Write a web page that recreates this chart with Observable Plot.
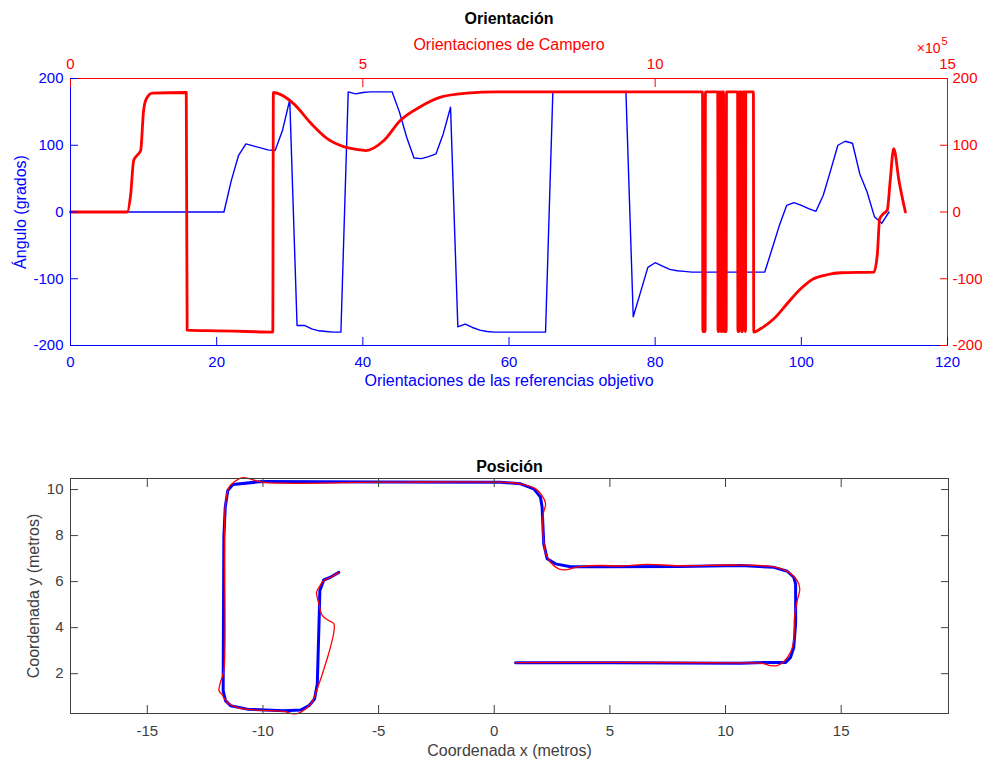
<!DOCTYPE html>
<html>
<head>
<meta charset="utf-8">
<script src="https://cdn.jsdelivr.net/npm/d3@7"></script>
<script src="https://cdn.jsdelivr.net/npm/@observablehq/plot@0.6"></script>
<style>
  body { margin: 0; background: #fff; }
  #chart { position: relative; width: 984px; height: 762px; background: #fff; }
  #top, #bottom { position: absolute; left: 0; }
  #top { top: 0; }
  #bottom { top: 400px; }
</style>
</head>
<body>
<div id="chart"><div id="top"></div><div id="bottom"></div></div>
<script>
const BLUE = "#0000ff", RED = "#ff0000", GRAY = "#404040";
const FONT = "'Liberation Sans', Arial, Helvetica, sans-serif";

// ---------- Orientación (top panel) ----------
// blue: orientation of the target references, one value per index 0..112
const refOrientation = [
  0, 0, 0, 0, 0, 0, 0, 0, 0, 0,
  0, 0, 0, 0, 0, 0, 0, 0, 0, 0,
  0, 0, 47, 85, 102, 99, 96, 93, 92, 122,
  168, -170, -170, -175, -178, -179, -180, -180, 180, 177,
  179, 180, 180, 180, 180, 150, 112, 81, 80, 83,
  87, 117, 157, -172, -168, -173, -177, -179, -180, -180,
  -180, -180, -180, -180, -180, -180, 180, 180, 180, 180,
  180, 180, 180, 180, 180, 180, 180, -157, -120, -83,
  -76, -81, -86, -88, -89, -90, -90, -90, -90, -90,
  -90, -90, -90, -90, -90, -90, -55, -20, 10, 14,
  10, 5, 1, 25, 62, 100, 106, 103, 57, 30,
  -7, -17, 0
];
// red: Campero orientations, sample position in units of 10^5
const campT = [
  0, 0.97, 1.03, 1.08, 1.14, 1.2, 1.25, 1.3, 1.4, 1.98,
  1.995, 2.5, 3.0, 3.46, 3.47, 3.82, 4.1, 4.39, 4.67, 4.96,
  5.05, 5.36, 5.64, 5.99, 6.33, 6.78, 7.3, 10.81, 10.815, 10.855,
  10.86, 11.07, 11.075, 11.09, 11.095, 11.12, 11.125, 11.145, 11.15, 11.17,
  11.175, 11.215, 11.22, 11.41, 11.415, 11.435, 11.44, 11.47, 11.475, 11.495,
  11.5, 11.535, 11.54, 11.545, 11.55, 11.68, 11.686, 11.8, 12.03, 12.26,
  12.49, 12.71, 12.94, 13.17, 13.74, 13.8, 13.84, 13.9, 13.97, 14.02,
  14.08, 14.17, 14.28
];
const campAngle = [
  0, 0, 27, 77, 85, 92, 152, 170, 178, 179,
  -177, -178, -179, -180, 179, 162, 134, 110, 98, 93,
  92, 107, 137, 158, 172, 178, 180, 180, -179, -179,
  180, 180, -179, -179, 180, 180, -179, -179, 180, 180,
  -179, -179, 180, 180, -179, -179, 180, 180, -179, -179,
  180, 180, -179, -179, 180, 180, -180, -175, -160, -137,
  -115, -100, -94, -91, -90, -63, -10, -3, 3, 47,
  95, 47, 0
];
const angleTicks = [-200, -100, 0, 100, 200];
const indexTicks = [0, 20, 40, 60, 80, 100, 120];
const campTicks = [0, 5, 10, 15];          // ×10^5
const indexMax = 120, campMax = 15;
const campToIndex = t => t * indexMax / campMax;

// ---------- Posición (bottom panel) ----------
const refX = [0.92, 5, 10.65, 11.8, 12.6, 12.81, 12.95, 13.03, 13.03, 12.95, 12.67, 12.09, 10.65, 8, 4.6, 3.3, 2.65, 2.29, 2.14, 2.07, 2.0, 1.71, 1.14, 0.27, -5, -10.03, -11.3, -11.52, -11.63, -11.69, -11.72, -11.62, -11.4, -10.68, -9.1, -8.37, -8.01, -7.77, -7.65, -7.56, -7.54, -7.37, -7.08, -6.72];
const refY = [2.47, 2.48, 2.45, 2.49, 2.49, 2.71, 3.14, 4.16, 5.9, 6.19, 6.45, 6.62, 6.7, 6.66, 6.65, 6.65, 6.77, 6.99, 7.64, 9.23, 9.67, 10.03, 10.25, 10.32, 10.33, 10.35, 10.22, 9.96, 9.23, 7.93, 1.26, 0.83, 0.61, 0.46, 0.39, 0.42, 0.61, 0.9, 1.55, 4.74, 5.6, 6.07, 6.19, 6.4];
const campX = [0.92, 5, 10.65, 11.59, 11.95, 12.23, 12.52, 12.81, 12.95, 12.98, 13.1, 13.21, 13.1, 12.74, 12.09, 10.65, 8, 6.6, 5.6, 4.6, 3.87, 3.44, 3.08, 2.79, 2.43, 2.22, 2.12, 2.12, 2.22, 2.07, 1.79, 1.14, 0.27, -5, -10.03, -10.68, -10.96, -11.25, -11.47, -11.63, -11.69, -11.84, -11.9, -11.79, -11.54, -11.1, -10.25, -9.1, -8.66, -8.37, -7.94, -7.73, -6.93, -7.14, -7.43, -7.58, -7.68, -7.58, -7.37, -7.0, -6.72];
const campY = [2.48, 2.49, 2.47, 2.45, 2.35, 2.35, 2.53, 2.93, 3.43, 4.45, 5.17, 5.68, 6.04, 6.4, 6.64, 6.72, 6.69, 6.75, 6.68, 6.7, 6.67, 6.6, 6.51, 6.55, 6.84, 7.27, 7.93, 8.94, 9.38, 9.74, 10.03, 10.25, 10.32, 10.32, 10.32, 10.5, 10.5, 10.32, 10.1, 9.23, 2.13, 1.62, 1.26, 1.12, 0.75, 0.53, 0.42, 0.36, 0.25, 0.32, 0.68, 1.12, 4.16, 4.3, 4.52, 5.03, 5.53, 5.75, 6.04, 6.22, 6.4];
const posXTicks = [-15, -10, -5, 0, 5, 10, 15];
const posYTicks = [2, 4, 6, 8, 10];
const posXDomain = [-18.32, 19.64];
const posYDomain = [0.27, 10.48];

const fmt = d => String(d);
const style = {fontFamily: FONT, fontSize: "15px", background: "#fff", overflow: "visible"};

const topPlot = Plot.plot({
  width: 984, height: 400,
  marginLeft: 70, marginRight: 37, marginTop: 78, marginBottom: 55,
  style,
  x: {domain: [0, indexMax]},
  y: {domain: [-200, 200]},
  marks: [
    Plot.line(refOrientation, {x: (d, i) => i, y: d => d, stroke: BLUE, strokeWidth: 1.4}),
    Plot.line(campT, {x: t => campToIndex(t), y: (t, i) => campAngle[i], stroke: RED, strokeWidth: 2.8, strokeLinejoin: "round", curve: "monotone-x"}),
    Plot.ruleY([-200], {stroke: BLUE}),
    Plot.ruleX([0], {stroke: BLUE}),
    Plot.ruleY([200], {stroke: RED}),
    Plot.ruleX([indexMax], {stroke: RED}),
    Plot.axisX(indexTicks, {anchor: "bottom", color: BLUE, tickSize: -8, tickPadding: 19, tickFormat: fmt, label: null}),
    Plot.axisX(campTicks.map(campToIndex), {anchor: "top", color: RED, tickSize: -8, tickPadding: 18, tickFormat: d => fmt(d * campMax / indexMax), label: null}),
    Plot.axisY(angleTicks, {anchor: "left", color: BLUE, tickSize: -8, tickPadding: 15, tickFormat: fmt, label: null}),
    Plot.axisY(angleTicks, {anchor: "right", color: RED, tickSize: -8, tickPadding: 13, tickFormat: fmt, label: null}),
    Plot.text(["Orientación"], {text: d => d, frameAnchor: "top", dy: -66, fontWeight: "bold", fontSize: 16, fill: "#000"}),
    Plot.text(["Orientaciones de Campero"], {text: d => d, frameAnchor: "top", dy: -40, fontSize: 16, fill: RED}),
    Plot.text(["×10"], {text: d => d, frameAnchor: "top-right", textAnchor: "end", dx: -7, dy: -35, fontSize: 14, fill: RED}),
    Plot.text(["5"], {text: d => d, frameAnchor: "top-right", textAnchor: "start", dx: -6, dy: -41, fontSize: 11, fill: RED}),
    Plot.text(["Orientaciones de las referencias objetivo"], {text: d => d, frameAnchor: "bottom", dy: 40, fontSize: 16, fill: BLUE}),
    Plot.text(["Ángulo (grados)"], {text: d => d, x: () => 0, y: () => 0, dx: -50, rotate: -90, fontSize: 16, fill: BLUE})
  ]
});
document.getElementById("top").appendChild(topPlot);

const bottomPlot = Plot.plot({
  width: 984, height: 362,
  marginLeft: 70, marginRight: 36, marginTop: 78, marginBottom: 49,
  style,
  x: {domain: posXDomain},
  y: {domain: posYDomain},
  marks: [
    Plot.line(refX, {x: d => d, y: (d, i) => refY[i], stroke: BLUE, strokeWidth: 3, strokeLinejoin: "round"}),
    Plot.line(campX, {x: d => d, y: (d, i) => campY[i], stroke: RED, strokeWidth: 1.3, curve: "catmull-rom"}),
    Plot.frame({stroke: GRAY}),
    Plot.axisX(posXTicks, {anchor: "bottom", color: GRAY, tickSize: -8, tickPadding: 20, tickFormat: fmt, label: null}),
    Plot.axisX(posXTicks, {anchor: "top", stroke: GRAY, fill: "none", tickSize: -8, label: null}),
    Plot.axisY(posYTicks, {anchor: "left", color: GRAY, tickSize: -8, tickPadding: 15, tickFormat: fmt, label: null}),
    Plot.axisY(posYTicks, {anchor: "right", stroke: GRAY, fill: "none", tickSize: -8, label: null}),
    Plot.text(["Posición"], {text: d => d, frameAnchor: "top", dy: -18, fontWeight: "bold", fontSize: 16, fill: "#000"}),
    Plot.text(["Coordenada x (metros)"], {text: d => d, frameAnchor: "bottom", dy: 42, fontSize: 16, fill: GRAY}),
    Plot.text(["Coordenada y (metros)"], {text: d => d, x: () => posXDomain[0], y: () => (posYDomain[0] + posYDomain[1]) / 2, dx: -37, rotate: -90, fontSize: 16, fill: GRAY})
  ]
});
document.getElementById("bottom").appendChild(bottomPlot);
</script>
</body>
</html>
